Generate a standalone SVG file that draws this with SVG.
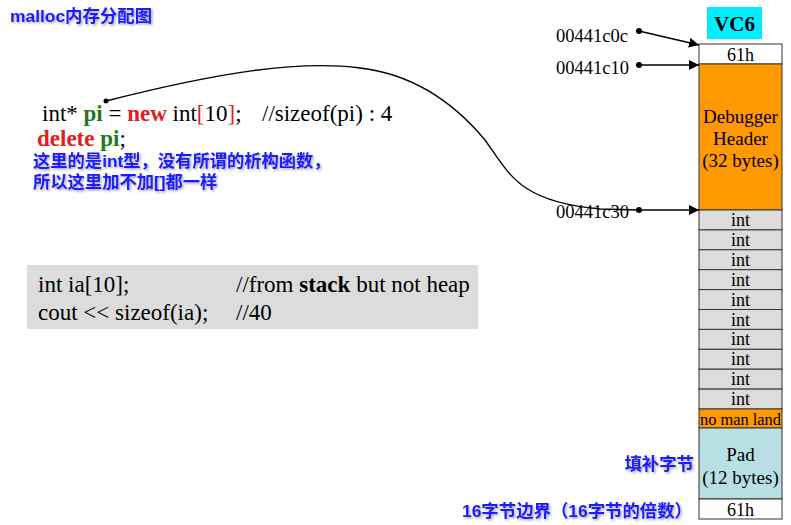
<svg xmlns="http://www.w3.org/2000/svg" width="791" height="525" viewBox="0 0 791 525">
<defs>
<style>
.t{font-family:"Liberation Serif","Times New Roman",serif;fill:#000}
.c{font-family:"Liberation Sans","Noto Sans CJK SC",sans-serif;fill:#1a1aff;font-weight:bold}
.cell{stroke:#333;stroke-width:1}
.int{fill:#dcdcdc}
.conn{stroke:#000;stroke-width:1.3;fill:none}
</style>
<marker id="ah" viewBox="0 0 10 10" refX="10" refY="5" markerWidth="10" markerHeight="10" markerUnits="userSpaceOnUse" orient="auto">
<path d="M0,0 L10,5 L0,10 z" fill="#000"/>
</marker>
<filter id="sh" x="-5%" y="-20%" width="110%" height="150%">
<feDropShadow dx="1.5" dy="1.5" stdDeviation="1" flood-color="#000" flood-opacity="0.35"/>
</filter>
</defs>

<g id="title"><text class="c" x="10" y="22" font-size="17.4" filter="url(#sh)">malloc内存分配图</text></g>

<g id="code1">
<text class="t" x="42" y="121" font-size="23">int* <tspan fill="#1e7a1e" font-weight="bold">pi</tspan> = <tspan fill="#e02020" font-weight="bold">new</tspan> int<tspan fill="#e02020">[</tspan>10<tspan fill="#e02020">]</tspan>;<tspan x="262">//sizeof(pi) : 4</tspan></text>
<text class="t" x="37" y="146" font-size="23" font-weight="bold"><tspan fill="#e02020">delete</tspan> <tspan fill="#1e7a1e">pi</tspan><tspan font-weight="normal">;</tspan></text>
<text class="c" x="33" y="167" font-size="17.3" font-weight="normal" filter="url(#sh)">这里的是<tspan font-weight="bold">int</tspan>型，没有所谓的析构函数，</text>
<text class="c" x="33" y="188" font-size="17.3" font-weight="normal" filter="url(#sh)">所以这里加不加<tspan font-weight="bold">[]</tspan>都一样</text>
</g>

<g id="code2">
<rect x="27" y="265" width="451" height="64" fill="#dcdcdc"/>
<text class="t" x="38" y="292" font-size="23">int ia[10];</text>
<text class="t" x="236" y="292" font-size="23">//from <tspan font-weight="bold">stack</tspan> but not heap</text>
<text class="t" x="38" y="320" font-size="23">cout &lt;&lt; sizeof(ia);</text>
<text class="t" x="236" y="320" font-size="23">//40</text>
</g>

<g id="vc6">
<rect x="707" y="7" width="55" height="32" fill="#00eeff"/>
<text class="t" x="734.5" y="31" font-size="21" font-weight="bold" text-anchor="middle">VC6</text>
</g>

<g id="memory">
<rect class="cell" x="699" y="44" width="83" height="20" fill="#fff"/>
<text class="t" x="740.5" y="61" font-size="18" text-anchor="middle">61h</text>
<rect class="cell" x="699" y="64" width="83" height="146" fill="#ff9900"/>
<text class="t" x="740.5" y="123" font-size="19" text-anchor="middle">Debugger</text>
<text class="t" x="740.5" y="145" font-size="19" text-anchor="middle">Header</text>
<text class="t" x="740.5" y="167" font-size="19" text-anchor="middle">(32 bytes)</text>
<g id="ints">
<rect class="cell int" x="699" y="210" width="83" height="19.9"/>
<rect class="cell int" x="699" y="229.9" width="83" height="19.9"/>
<rect class="cell int" x="699" y="249.8" width="83" height="19.9"/>
<rect class="cell int" x="699" y="269.7" width="83" height="19.9"/>
<rect class="cell int" x="699" y="289.6" width="83" height="19.9"/>
<rect class="cell int" x="699" y="309.5" width="83" height="19.9"/>
<rect class="cell int" x="699" y="329.4" width="83" height="19.9"/>
<rect class="cell int" x="699" y="349.3" width="83" height="19.9"/>
<rect class="cell int" x="699" y="369.2" width="83" height="19.9"/>
<rect class="cell int" x="699" y="389.1" width="83" height="19.9"/>
<text class="t" x="740.5" y="226" font-size="18" text-anchor="middle">int</text>
<text class="t" x="740.5" y="245.9" font-size="18" text-anchor="middle">int</text>
<text class="t" x="740.5" y="265.8" font-size="18" text-anchor="middle">int</text>
<text class="t" x="740.5" y="285.7" font-size="18" text-anchor="middle">int</text>
<text class="t" x="740.5" y="305.6" font-size="18" text-anchor="middle">int</text>
<text class="t" x="740.5" y="325.5" font-size="18" text-anchor="middle">int</text>
<text class="t" x="740.5" y="345.4" font-size="18" text-anchor="middle">int</text>
<text class="t" x="740.5" y="365.3" font-size="18" text-anchor="middle">int</text>
<text class="t" x="740.5" y="385.2" font-size="18" text-anchor="middle">int</text>
<text class="t" x="740.5" y="405.1" font-size="18" text-anchor="middle">int</text>
</g>
<rect class="cell" x="699" y="409" width="83" height="19" fill="#ff9900"/>
<text class="t" x="740.5" y="424.5" font-size="16.4" text-anchor="middle">no man land</text>
<rect class="cell" x="699" y="428" width="83" height="71" fill="#b8dfe3"/>
<text class="t" x="740.5" y="461" font-size="19" text-anchor="middle">Pad</text>
<text class="t" x="740.5" y="484" font-size="19" text-anchor="middle">(12 bytes)</text>
<rect class="cell" x="699" y="499" width="83" height="20" fill="#fff"/>
<text class="t" x="740.5" y="516" font-size="18" text-anchor="middle">61h</text>
</g>

<g id="addr">
<text class="t" x="556" y="42" font-size="18.5">00441c0c</text>
<text class="t" x="556" y="74" font-size="18.5">00441c10</text>
<text class="t" x="556" y="218" font-size="18.5">00441c30</text>
</g>

<g id="notes">
<text class="c" x="694" y="470" font-size="17.4" text-anchor="end" filter="url(#sh)">填补字节</text>
<text class="c" x="692" y="517" font-size="17.4" text-anchor="end" filter="url(#sh)">16字节边界（16字节的倍数）</text>
</g>

<g id="connectors">
<circle cx="639" cy="31" r="3" fill="#000"/>
<line class="conn" x1="639" y1="31" x2="699" y2="45" marker-end="url(#ah)"/>
<circle cx="639" cy="65" r="3" fill="#000"/>
<line class="conn" x1="639" y1="65" x2="699" y2="65" marker-end="url(#ah)"/>
<circle cx="639" cy="210" r="3" fill="#000"/>
<line class="conn" x1="639" y1="210" x2="699" y2="210" marker-end="url(#ah)"/>
<circle cx="106" cy="101" r="2.5" fill="#000"/>
<path class="conn" d="M106,101 C220,72 300,60 360,68 C420,75 460,110 485,140 C510,175 520,202 600,209 L639,210"/>
</g>
</svg>
